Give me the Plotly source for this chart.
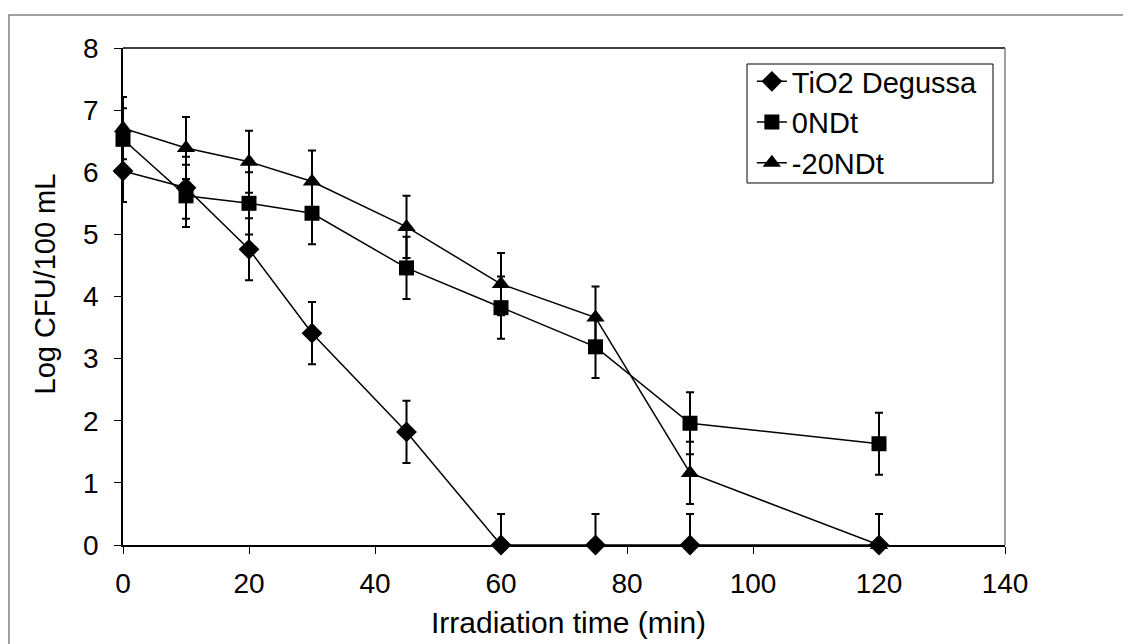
import plotly.graph_objects as go

time_tio2 = [0, 10, 20, 30, 45, 60, 75, 90, 120]
tio2 = [6.02, 5.75, 4.76, 3.41, 1.82, 0, 0, 0, 0]

time_0ndt = [0, 10, 20, 30, 45, 60, 75, 90, 120]
ndt0 = [6.53, 5.62, 5.50, 5.34, 4.46, 3.82, 3.19, 1.96, 1.63]

time_20ndt = [0, 10, 20, 30, 45, 60, 75, 90, 120]
ndt20 = [6.71, 6.39, 6.17, 5.85, 5.12, 4.20, 3.66, 1.16, 0]

err = 0.5

x_title = "Irradiation time (min)"
y_title = "Log CFU/100 mL"

series = [
    ("TiO2 Degussa", time_tio2, tio2, "diamond", 16),
    ("0NDt", time_0ndt, ndt0, "square", 15),
    ("-20NDt", time_20ndt, ndt20, "triangle-up", 16),
]

fig = go.Figure()
for name, xs, ys, sym, sz in series:
    fig.add_trace(go.Scatter(
        x=xs, y=ys, name=name, mode="lines+markers",
        line=dict(color="black", width=1.5),
        marker=dict(symbol=sym, size=sz, color="black"),
        error_y=dict(type="data", symmetric=False,
                     array=[err] * len(ys),
                     arrayminus=[min(err, v) for v in ys],
                     color="black", thickness=2, width=4),
        cliponaxis=False,
    ))

font = "Arial, Liberation Sans, sans-serif"
fs_tick = 28
fs_leg = 29
fs_xtitle = 30
fs_ytitle = 29
fig.update_layout(
    width=1123, height=636,
    margin=dict(l=115, r=126, t=40, b=99, autoexpand=False),
    paper_bgcolor="white", plot_bgcolor="white",
    font=dict(family=font, size=fs_tick, color="black"),
    showlegend=True,
    legend=dict(x=0.713, y=0.984, xanchor="left", yanchor="top",
                borderwidth=0, bgcolor="rgba(0,0,0,0)",
                font=dict(size=fs_leg, family=font), tracegroupgap=0,
                itemwidth=30),
    xaxis=dict(range=[0, 140], tickvals=[0, 20, 40, 60, 80, 100, 120, 140],
               showgrid=False, zeroline=False, showline=True, linecolor="black",
               linewidth=1.5, ticks="outside", ticklen=7, tickcolor="black",
               tickfont=dict(size=fs_tick), automargin=False, ticklabelstandoff=6),
    yaxis=dict(range=[0, 8], tickvals=list(range(0, 9)),
               showgrid=False, zeroline=False, showline=True, linecolor="black",
               linewidth=1.5, ticks="outside", ticklen=7, tickcolor="black",
               tickfont=dict(size=fs_tick), automargin=False, ticklabelstandoff=10),
    annotations=[
        dict(text=x_title, xref="paper", yref="paper", x=0.505, y=-0.155,
             xanchor="center", yanchor="middle", showarrow=False,
             font=dict(size=fs_xtitle, family=font)),
        dict(text=y_title, xref="paper", yref="paper", x=-0.088, y=0.525,
             xanchor="center", yanchor="middle", textangle=-90, showarrow=False,
             font=dict(size=fs_ytitle, family=font)),
    ],
    shapes=[
        dict(type="line", xref="paper", yref="paper", x0=0, x1=1, y0=1, y1=1,
             line=dict(color="black", width=1.5)),
        dict(type="line", xref="paper", yref="paper", x0=1, x1=1, y0=0, y1=1,
             line=dict(color="#808080", width=1.5)),
        dict(type="rect", xref="paper", yref="paper", x0=0.7075, x1=0.9864,
             y0=0.7284, y1=0.9678, line=dict(color="black", width=1)),
        dict(type="rect", xref="paper", yref="paper", x0=-0.1293, x1=1.3,
             y0=-0.4, y1=1.0664, line=dict(color="#808080", width=1.5),
             layer="below"),
    ],
)

fig.write_html("out.html")
